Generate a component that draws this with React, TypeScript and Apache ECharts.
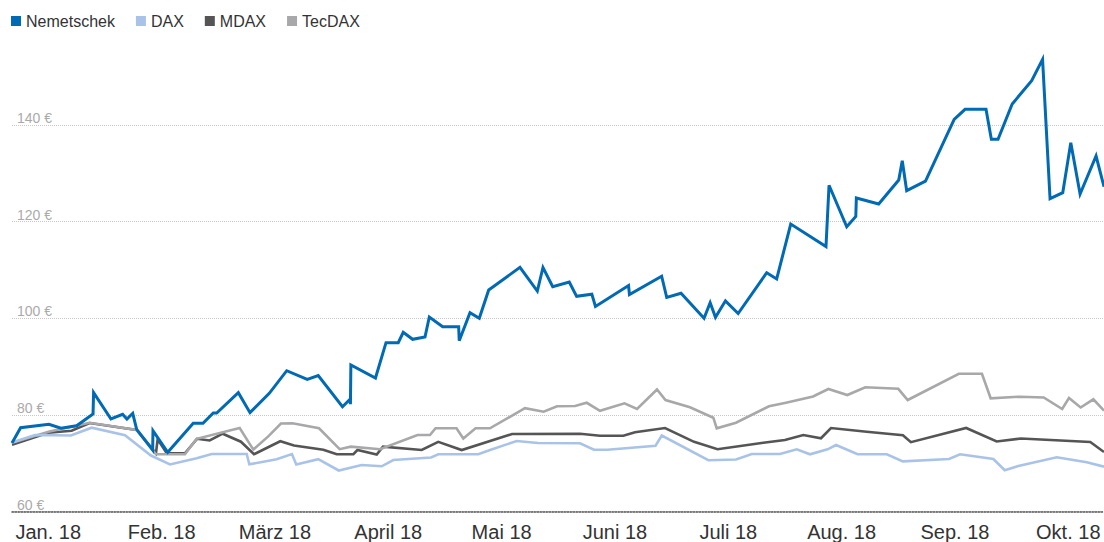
import React, { useEffect, useRef } from "react";
import * as echarts from "echarts";

// x positions are in month units: 0 = "Jan. 18", 1 = "Feb. 18", ...
const monthLabels = ["Jan. 18", "Feb. 18", "März 18", "April 18", "Mai 18", "Juni 18", "Juli 18", "Aug. 18", "Sep. 18", "Okt. 18"];
const monthTicks = [0, 1, 2, 3, 4, 5, 6, 7, 8, 9];
const yTicks = [60, 80, 100, 120, 140];

const nemX = [-0.32, -0.244, 0.006, 0.112, 0.25, 0.395, 0.4, 0.553, 0.656, 0.694, 0.745, 0.78, 0.921, 0.924, 1.054, 1.279, 1.365, 1.456, 1.486, 1.677, 1.78, 1.95, 2.104, 2.285, 2.382, 2.596, 2.662, 2.666, 2.67, 2.887, 2.98, 3.088, 3.132, 3.215, 3.324, 3.362, 3.48, 3.621, 3.626, 3.721, 3.803, 3.886, 4.162, 4.315, 4.365, 4.451, 4.597, 4.662, 4.796, 4.828, 5.12, 5.128, 5.412, 5.457, 5.583, 5.786, 5.84, 5.887, 5.975, 6.087, 6.339, 6.427, 6.551, 6.862, 6.889, 7.045, 7.125, 7.13, 7.327, 7.504, 7.535, 7.574, 7.74, 7.993, 8.089, 8.274, 8.321, 8.38, 8.505, 8.677, 8.773, 8.839, 8.951, 9.022, 9.104, 9.245, 9.315];
const nemY = [74.18, 77.35, 78.05, 77.23, 77.76, 80.19, 84.6, 79.15, 80.12, 79.15, 80.33, 77.02, 72.73, 76.73, 72.26, 78.26, 78.26, 80.39, 80.39, 84.6, 80.46, 84.47, 89.15, 87.37, 88.16, 81.7, 83.25, 82.22, 90.33, 87.64, 94.95, 94.95, 97.1, 95.65, 96.13, 100.27, 98.26, 98.26, 95.36, 101.16, 100.0, 105.86, 110.56, 105.65, 110.52, 106.54, 107.52, 104.55, 104.99, 102.44, 106.79, 104.93, 108.72, 104.31, 105.18, 100.0, 103.23, 100.21, 103.62, 100.99, 109.44, 108.14, 119.52, 114.87, 127.54, 118.96, 121.08, 124.91, 123.66, 128.63, 132.63, 126.42, 128.39, 141.2, 143.27, 143.27, 137.06, 137.06, 144.37, 149.19, 153.62, 124.76, 126.0, 136.36, 125.73, 133.6, 127.25];

const daxX = [-0.32, -0.117, 0.2, 0.383, 0.677, 0.906, 1.074, 1.309, 1.442, 1.751, 1.774, 2.015, 2.15, 2.188, 2.382, 2.563, 2.765, 2.942, 3.044, 3.377, 3.441, 3.794, 3.898, 4.133, 4.321, 4.692, 4.815, 4.934, 5.358, 5.413, 5.824, 6.068, 6.207, 6.456, 6.604, 6.721, 6.876, 6.951, 7.141, 7.399, 7.54, 7.948, 8.045, 8.339, 8.439, 8.559, 8.898, 9.163, 9.315];
const daxY = [74.29, 75.84, 75.73, 77.35, 75.78, 71.59, 69.73, 71.01, 71.9, 71.9, 69.77, 70.81, 71.9, 69.73, 70.83, 68.49, 69.63, 69.36, 70.66, 71.18, 71.86, 71.84, 72.73, 74.6, 74.18, 74.14, 72.8, 72.8, 73.62, 75.73, 70.62, 70.77, 71.9, 71.9, 72.88, 71.84, 72.88, 73.77, 71.86, 71.86, 70.39, 70.87, 71.84, 70.87, 68.55, 69.42, 71.22, 70.19, 69.28];

const mdaxX = [-0.32, 0.0, 0.206, 0.365, 0.78, 0.95, 0.965, 1.045, 1.206, 1.312, 1.424, 1.539, 1.7, 1.815, 2.047, 2.168, 2.427, 2.545, 2.692, 2.728, 2.898, 2.953, 3.295, 3.441, 3.648, 4.092, 4.692, 4.868, 5.074, 5.177, 5.442, 5.698, 5.905, 6.309, 6.5, 6.662, 6.818, 6.906, 7.221, 7.541, 7.611, 8.099, 8.368, 8.582, 9.194, 9.315];
const mdaxY = [73.81, 76.31, 76.71, 78.32, 76.87, 72.05, 74.95, 72.05, 72.05, 75.05, 74.7, 76.11, 74.45, 71.86, 74.55, 73.66, 72.8, 71.86, 71.86, 72.73, 71.8, 73.42, 72.73, 74.43, 72.73, 76.05, 76.11, 75.69, 75.69, 76.42, 77.29, 74.43, 72.88, 74.24, 74.8, 75.84, 75.16, 77.29, 76.52, 75.8, 74.35, 77.29, 74.49, 75.11, 74.39, 72.32];

const tecX = [-0.32, 0.011, 0.365, 0.78, 0.95, 1.206, 1.309, 1.689, 1.809, 1.941, 2.053, 2.155, 2.389, 2.571, 2.669, 2.927, 3.258, 3.368, 3.417, 3.602, 3.662, 3.77, 3.897, 4.206, 4.371, 4.489, 4.648, 4.751, 4.868, 5.084, 5.195, 5.371, 5.446, 5.662, 5.868, 5.898, 6.068, 6.359, 6.509, 6.748, 6.883, 7.05, 7.209, 7.5, 7.583, 8.034, 8.238, 8.315, 8.574, 8.783, 8.946, 9.006, 9.109, 9.221, 9.315];
const tecY = [74.22, 76.56, 78.36, 76.87, 71.86, 71.86, 75.05, 77.29, 72.82, 75.55, 78.22, 78.28, 77.23, 72.9, 73.42, 72.88, 75.84, 75.84, 77.25, 77.25, 75.11, 77.23, 77.23, 81.39, 80.66, 81.8, 81.84, 82.51, 80.85, 82.4, 81.22, 85.26, 83.08, 81.57, 79.42, 77.23, 78.39, 81.78, 82.53, 83.81, 85.36, 84.12, 85.71, 85.4, 83.08, 88.51, 88.51, 83.44, 83.77, 83.6, 81.22, 83.5, 81.53, 83.23, 80.87];

const zip = (xs: number[], ys: number[]) => xs.map((x, i) => [x, ys[i]]);

export default function App() {
  const ref = useRef<HTMLDivElement>(null);
  useEffect(() => {
    if (!ref.current) return;
    const chart = echarts.init(ref.current, null, { renderer: "svg" });
    const font = "'Liberation Sans', Arial, Helvetica, sans-serif";
    const mk = (name: string, xs: number[], ys: number[], color: string, z: number, width: number) => ({
      name,
      type: "line",
      data: zip(xs, ys),
      showSymbol: false,
      symbol: "none",
      z,
      lineStyle: { color, width, join: "miter" },
      itemStyle: { color },
      emphasis: { disabled: true },
    });
    chart.setOption({
      animation: false,
      textStyle: { fontFamily: font },
      legend: {
        left: 11,
        top: 13,
        padding: 0,
        itemWidth: 10,
        itemHeight: 10,
        itemGap: 21,
        icon: "rect",
        data: ["Nemetschek", "DAX", "MDAX", "TecDAX"],
        textStyle: { fontSize: 16, color: "#333", fontFamily: font },
      },
      grid: { left: 12, right: 0, top: 28.5, bottom: 30.5, containLabel: false, outerBoundsMode: "none" },
      xAxis: {
        type: "value",
        min: -0.32,
        max: 9.315,
        axisLine: { show: true, onZero: false, lineStyle: { color: "#555", width: 1.5, type: "dotted" } },
        axisTick: { show: false },
        splitLine: { show: false },
        axisLabel: {
          customValues: monthTicks,
          margin: 10,
          fontSize: 20,
          color: "#333",
          fontFamily: font,
          formatter: (v: number) => monthLabels[Math.round(v)] ?? "",
        },
      },
      yAxis: {
        type: "value",
        min: 60,
        max: 160,
        interval: 20,
        axisLine: { show: false },
        axisTick: { show: false },
        splitLine: { show: true, showMaxLine: false, lineStyle: { color: "#c8c8c8", width: 1, type: "dotted" } },
        axisLabel: {
          inside: true,
          margin: 5,
          verticalAlign: "bottom",
          fontSize: 14,
          color: "#aaa",
          fontFamily: font,
          showMaxLabel: false,
          formatter: (v: number) => (yTicks.includes(v) ? `${v} €` : ""),
        },
      },
      series: [
        mk("Nemetschek", nemX, nemY, "#006ab4", 5, 3),
        mk("DAX", daxX, daxY, "#a9c3e8", 4, 2.6),
        mk("MDAX", mdaxX, mdaxY, "#555555", 2, 2.6),
        mk("TecDAX", tecX, tecY, "#a8a8aa", 3, 2.6),
      ],
    });
    return () => chart.dispose();
  }, []);
  return <div ref={ref} style={{ position: "absolute", left: 0, top: 0, width: 1104, height: 542 }} />;
}
